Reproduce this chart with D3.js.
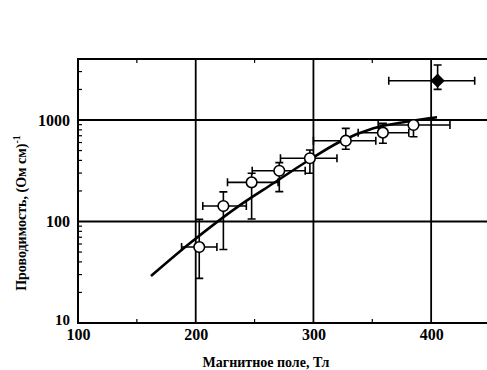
<!DOCTYPE html>
<html>
<head>
<meta charset="utf-8">
<script src="https://cdn.jsdelivr.net/npm/d3@7"></script>
<style>
  body { margin: 0; background: #fff; }
  svg { display: block; font-family: "Liberation Serif", "DejaVu Serif", serif; }
</style>
</head>
<body>
<svg id="chart" width="487" height="370"></svg>
<script>
// measured points (open circles)
const fieldT   = [203, 223.5, 247.5, 271, 297, 327.5, 359, 385];
const sigma    = [56, 142, 243, 316, 420, 625, 750, 893];
const fieldLo  = [188, 206, 227, 248, 272, 300, 338, 355];
const fieldHi  = [218, 243, 270, 293, 320, 353, 381, 416];
const sigmaLo  = [27.5, 53, 106, 197, 299, 515, 590, 685];
const sigmaHi  = [105, 196, 299, 380, 507, 828, 928, 1000];

// single filled diamond point
const peakField = [405.5];
const peakSigma = [2440];
const peakFieldLo = [364];
const peakFieldHi = [437];
const peakSigmaLo = [2005];
const peakSigmaHi = [3480];

// fitted curve
const curveField = [162, 195, 238, 266, 294, 322.5, 351, 379, 405];
const curveSigma = [29, 61, 146, 238, 388, 611, 828, 962, 1063];

const xTicks = [100, 200, 300, 400];
const xMinor = [150, 250, 350];
const yTicks = [10, 100, 1000];

const svg = d3.select('#chart');

const x = d3.scaleLinear().domain([100, 450]).range([78, 490]);
const y = d3.scaleLog().domain([10, 4000]).range([323, 58.9]);

const x0 = x(100), x1 = x(450), y0 = y(10), y1 = y(4000);

// grid lines
const grid = svg.append('g');
grid.selectAll('line.gx')
  .data([200, 300, 400])
  .enter().append('line')
  .attr('x1', d => x(d)).attr('x2', d => x(d))
  .attr('y1', y0).attr('y2', y1)
  .attr('stroke', '#000').attr('stroke-width', 1.8);
grid.selectAll('line.gy')
  .data([100, 1000])
  .enter().append('line')
  .attr('x1', x0).attr('x2', x1)
  .attr('y1', d => y(d)).attr('y2', d => y(d))
  .attr('stroke', '#000').attr('stroke-width', 1.8);

// minor ticks (inward)
const yMinor = [];
[10, 100, 1000].forEach(dec => {
  for (let k = 2; k <= 9; k++) if (dec * k <= 4000) yMinor.push(dec * k);
});
svg.append('g').selectAll('line')
  .data(yMinor)
  .enter().append('line')
  .attr('x1', x0).attr('x2', x0 + 4)
  .attr('y1', d => y(d)).attr('y2', d => y(d))
  .attr('stroke', '#000').attr('stroke-width', 1.2);
svg.append('g').selectAll('line')
  .data(xMinor)
  .enter().append('line')
  .attr('x1', d => x(d)).attr('x2', d => x(d))
  .attr('y1', y0).attr('y2', y0 - 4)
  .attr('stroke', '#000').attr('stroke-width', 1.2);
svg.append('g').selectAll('line')
  .data(xMinor)
  .enter().append('line')
  .attr('x1', d => x(d)).attr('x2', d => x(d))
  .attr('y1', y1).attr('y2', y1 + 4)
  .attr('stroke', '#000').attr('stroke-width', 1.2);

// axes
const xAxis = svg.append('g')
  .attr('transform', `translate(0,${y0})`)
  .call(d3.axisBottom(x).tickValues(xTicks).tickSize(0).tickPadding(6).tickFormat(d3.format('d')));
const yAxis = svg.append('g')
  .attr('transform', `translate(${x0},0)`)
  .call(d3.axisLeft(y).tickValues(yTicks).tickSize(0).tickPadding(8).tickFormat(d3.format('d')));
[xAxis, yAxis].forEach(a => {
  a.select('.domain').remove();
  a.selectAll('text')
    .attr('font-family', '"Liberation Serif", serif')
    .attr('font-weight', 'bold')
    .attr('font-size', 16)
    .attr('fill', '#000');
});
yAxis.selectAll('text').filter(d => d === 10).attr('dy', '0.1em').attr('font-size', 15);

// frame
svg.append('path')
  .attr('d', `M${x1},${y1}H${x0}V${y0}H${x1}`)
  .attr('fill', 'none').attr('stroke', '#000').attr('stroke-width', 2);

// fitted curve
const line = d3.line()
  .x(d => x(d[0])).y(d => y(d[1]))
  .curve(d3.curveMonotoneX);
svg.append('path')
  .datum(d3.zip(curveField, curveSigma))
  .attr('d', line)
  .attr('fill', 'none').attr('stroke', '#000').attr('stroke-width', 2.6);

// error bars
function errorBars(xs, ys, xl, xh, yl, yh) {
  const g = svg.append('g').attr('stroke', '#000').attr('stroke-width', 1.6).attr('fill', 'none');
  const cap = 4;
  xs.forEach((xv, i) => {
    const cx = x(xv), cy = y(ys[i]);
    g.append('path').attr('d',
      `M${x(xl[i])},${cy}H${x(xh[i])}` +
      `M${x(xl[i])},${cy - cap}V${cy + cap}` +
      `M${x(xh[i])},${cy - cap}V${cy + cap}` +
      `M${cx},${y(yl[i])}V${y(yh[i])}` +
      `M${cx - cap},${y(yl[i])}H${cx + cap}` +
      `M${cx - cap},${y(yh[i])}H${cx + cap}`);
  });
}
errorBars(fieldT, sigma, fieldLo, fieldHi, sigmaLo, sigmaHi);
errorBars(peakField, peakSigma, peakFieldLo, peakFieldHi, peakSigmaLo, peakSigmaHi);

// markers
svg.append('g').selectAll('circle')
  .data(d3.zip(fieldT, sigma))
  .enter().append('circle')
  .attr('cx', d => x(d[0])).attr('cy', d => y(d[1]))
  .attr('r', 5.3)
  .attr('fill', '#fff').attr('stroke', '#000').attr('stroke-width', 1.6);

svg.append('g').selectAll('path')
  .data(d3.zip(peakField, peakSigma))
  .enter().append('path')
  .attr('transform', d => `translate(${x(d[0])},${y(d[1])})`)
  .attr('d', d3.symbol().type(d3.symbolDiamond2).size(130))
  .attr('fill', '#000');

// axis titles
svg.append('text')
  .attr('x', 266).attr('y', 367)
  .attr('text-anchor', 'middle')
  .attr('font-size', 14).attr('font-weight', 'bold')
  .text('Магнитное поле, Тл');

const yTitle = svg.append('text')
  .attr('transform', 'translate(26,213) rotate(-90)')
  .attr('text-anchor', 'middle')
  .attr('font-size', 14).attr('font-weight', 'bold');
yTitle.append('tspan').text('Проводимость, (Ом см)');
yTitle.append('tspan').attr('dy', -6).attr('font-size', 10).text('-1');
</script>
</body>
</html>
